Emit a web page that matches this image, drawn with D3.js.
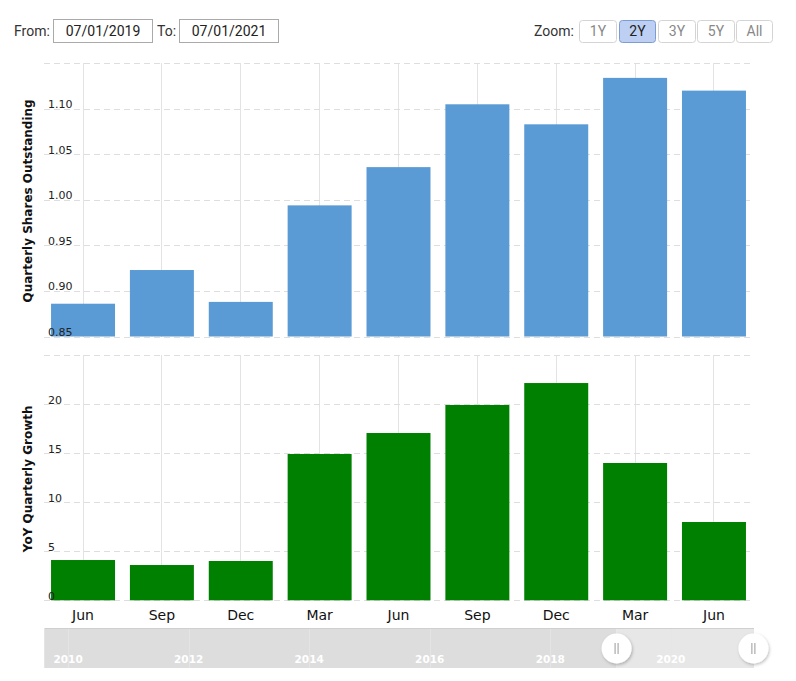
<!DOCTYPE html>
<html>
<head>
<meta charset="utf-8">
<script src="https://cdn.jsdelivr.net/npm/d3@7"></script>
<style>
  body { margin: 0; background: #fff; }
  svg { display: block; }
</style>
</head>
<body>
<svg id="chart" width="796" height="681"></svg>
<script>
// ---------- data ----------
const quarters = ["2019-06", "2019-09", "2019-12", "2020-03", "2020-06", "2020-09", "2020-12", "2021-03", "2021-06"];
const quarterLabels = ["Jun", "Sep", "Dec", "Mar", "Jun", "Sep", "Dec", "Mar", "Jun"];
const sharesOutstanding = [0.886, 0.923, 0.888, 0.994, 1.036, 1.105, 1.083, 1.134, 1.120];
const yoyGrowth = [4.11, 3.60, 4.01, 14.93, 17.07, 19.93, 22.17, 14.01, 7.99];
const sharesTicks = [0.85, 0.90, 0.95, 1.00, 1.05, 1.10, 1.15];
const sharesTickLabels = ["0.85", "0.90", "0.95", "1.00", "1.05", "1.10", ""];
const growthTicks = [0, 5, 10, 15, 20, 25];
const growthTickLabels = ["0", "5", "10", "15", "20", ""];
const zoomButtons = ["1Y", "2Y", "3Y", "5Y", "All"];
const selectedZoom = "2Y";
const fromDate = "07/01/2019";
const toDate = "07/01/2021";
const navYears = [2010, 2012, 2014, 2016, 2018, 2020];
const navDomain = [2009.6, 2021.38];
const navSelection = [2019.1, 2021.37];

// ---------- layout ----------
const svg = d3.select("#chart");
const plotLeft = 43.6, plotRight = 753.4, gridRight = 750;
const top1 = 63.3, bottom1 = 336.5;
const top2 = 355.3, bottom2 = 600.3;
const labelFont = "'DejaVu Sans', Verdana, sans-serif";
const uiFont = "Roboto, 'Open Sans', sans-serif";

const x = d3.scaleBand().domain(quarters).range([plotLeft, plotRight])
  .paddingInner(0.1886).paddingOuter(0.0943);
const y1 = d3.scaleLinear().domain([0.85, 1.15]).range([bottom1, top1]);
const y2 = d3.scaleLinear().domain([0, 25]).range([bottom2, top2]);

// shadow filter
const defs = svg.append("defs");
const f = defs.append("filter").attr("id", "shadow").attr("x", "-50%").attr("y", "-50%").attr("width", "200%").attr("height", "200%");
f.append("feDropShadow").attr("dx", 1).attr("dy", 1.5).attr("stdDeviation", 1.6).attr("flood-color", "#000").attr("flood-opacity", 0.25);

// ---------- header ----------
const hdr = svg.append("g");
hdr.append("text").attr("x", 14).attr("y", 36).text("From:")
  .attr("font-family", uiFont).attr("font-size", 14).attr("fill", "#333");
hdr.append("rect").attr("x", 53.5).attr("y", 19.5).attr("width", 99).attr("height", 23)
  .attr("fill", "#fff").attr("stroke", "#aaa");
hdr.append("text").attr("x", 103).attr("y", 36).attr("text-anchor", "middle").text(fromDate)
  .attr("font-family", uiFont).attr("font-size", 14).attr("fill", "#222");
hdr.append("text").attr("x", 157).attr("y", 36).text("To:")
  .attr("font-family", uiFont).attr("font-size", 14).attr("fill", "#333");
hdr.append("rect").attr("x", 179.5).attr("y", 19.5).attr("width", 99).attr("height", 23)
  .attr("fill", "#fff").attr("stroke", "#aaa");
hdr.append("text").attr("x", 229).attr("y", 36).attr("text-anchor", "middle").text(toDate)
  .attr("font-family", uiFont).attr("font-size", 14).attr("fill", "#222");

hdr.append("text").attr("x", 534).attr("y", 36).text("Zoom:")
  .attr("font-family", uiFont).attr("font-size", 14).attr("fill", "#333");
const btnX = [579.5, 619.5, 658.5, 697.5, 736.5];
const btnW = [37, 36, 37, 37, 36];
const btn = hdr.selectAll("g.btn").data(zoomButtons).join("g").attr("class", "btn");
btn.append("rect")
  .attr("x", (d, i) => btnX[i]).attr("y", 20.5).attr("width", (d, i) => btnW[i]).attr("height", 22)
  .attr("rx", 3).attr("ry", 3)
  .attr("fill", d => d === selectedZoom ? "#bdd0f3" : "#fff")
  .attr("stroke", d => d === selectedZoom ? "#7d9ccf" : "#d4d4d4");
btn.append("text")
  .attr("x", (d, i) => btnX[i] + btnW[i] / 2).attr("y", 36).attr("text-anchor", "middle")
  .text(d => d).attr("font-family", uiFont).attr("font-size", 14)
  .attr("fill", d => d === selectedZoom ? "#222" : "#888");

// ---------- panels ----------
function drawPanel(yScale, values, ticks, tickLabels, top, bottom, color, title) {
  const g = svg.append("g");
  // vertical grid at category centers
  g.selectAll("line.vgrid").data(quarters).join("line").attr("class", "vgrid")
    .attr("x1", d => x(d) + x.bandwidth() / 2).attr("x2", d => x(d) + x.bandwidth() / 2)
    .attr("y1", top).attr("y2", bottom)
    .attr("stroke", "#e3e3e3").attr("stroke-width", 1).attr("shape-rendering", "crispEdges");
  // horizontal dashed grid via axis
  const grid = g.append("g").attr("transform", `translate(${plotLeft},0)`)
    .call(d3.axisLeft(yScale).tickValues(ticks).tickSize(-(gridRight - plotLeft)).tickFormat(""));
  grid.select(".domain").remove();
  grid.selectAll(".tick line").attr("stroke", "#dedede").attr("stroke-dasharray", "6,4")
    .attr("shape-rendering", "crispEdges");
  // bars
  g.selectAll("rect.bar").data(values).join("rect").attr("class", "bar")
    .attr("x", (d, i) => x(quarters[i])).attr("width", x.bandwidth())
    .attr("y", d => yScale(d)).attr("height", d => yScale(yScale.domain()[0]) - yScale(d))
    .attr("fill", color);
  // tick labels (left aligned, above line)
  const lab = g.append("g").attr("transform", `translate(${plotLeft},0)`)
    .call(d3.axisLeft(yScale).tickValues(ticks).tickSize(0).tickFormat((d, i) => tickLabels[i]));
  lab.select(".domain").remove();
  lab.selectAll(".tick text")
    .attr("text-anchor", "start").attr("x", 4.5).attr("dy", "-1px")
    .attr("font-family", labelFont).attr("font-size", 11).attr("fill", "#222");
  lab.attr("font-family", null).attr("font-size", null);
  // title
  g.append("text")
    .attr("transform", `translate(32,${(top + bottom) / 2 + 1}) rotate(-90)`)
    .attr("text-anchor", "middle").text(title)
    .attr("font-family", labelFont).attr("font-size", 12).attr("font-weight", "bold").attr("fill", "#111");
  return g;
}

drawPanel(y1, sharesOutstanding, sharesTicks, sharesTickLabels, top1, bottom1, "#5b9bd5", "Quarterly Shares Outstanding");
drawPanel(y2, yoyGrowth, growthTicks, growthTickLabels, top2, bottom2, "#008000", "YoY Quarterly Growth");

// x axis labels
const xAxis = svg.append("g").attr("transform", `translate(0,${bottom2})`)
  .call(d3.axisBottom(x).tickSize(0).tickPadding(0).tickFormat((d, i) => quarterLabels[i]));
xAxis.select(".domain").remove();
xAxis.attr("font-family", null).attr("font-size", null);
xAxis.selectAll(".tick text").attr("y", 20).attr("dy", 0)
  .attr("font-family", labelFont).attr("font-size", 14).attr("fill", "#111");

// ---------- navigator ----------
const navTop = 628, navBottom = 668, navLeft = 44, navRight = 754;
const nx = d3.scaleLinear().domain(navDomain).range([navLeft, navRight]);
const nav = svg.append("g");
nav.append("rect").attr("x", navLeft).attr("y", navTop).attr("width", nx(navSelection[0]) - navLeft)
  .attr("height", navBottom - navTop).attr("fill", "#dddddd");
nav.append("rect").attr("x", nx(navSelection[0])).attr("y", navTop)
  .attr("width", navRight - nx(navSelection[0])).attr("height", navBottom - navTop).attr("fill", "#e7e7e7");
nav.append("line").attr("x1", navLeft).attr("x2", navRight).attr("y1", navTop + 0.5).attr("y2", navTop + 0.5)
  .attr("stroke", "#cfcfcf");
nav.append("line").attr("x1", navLeft + 0.5).attr("x2", navLeft + 0.5).attr("y1", navTop).attr("y2", navBottom)
  .attr("stroke", "#e4e4e4");
nav.selectAll("line.yr").data(navYears).join("line").attr("class", "yr")
  .attr("x1", d => Math.round(nx(d)) + 0.5).attr("x2", d => Math.round(nx(d)) + 0.5)
  .attr("y1", navTop + 1).attr("y2", navBottom).attr("stroke", "#e6e6e6").attr("stroke-opacity", 0.8);
nav.selectAll("text.yr").data(navYears).join("text").attr("class", "yr")
  .attr("x", d => nx(d)).attr("y", 663).attr("text-anchor", "middle").text(d => d)
  .attr("font-family", labelFont).attr("font-size", 10.5).attr("font-weight", "bold").attr("fill", "#fff");
const handles = nav.selectAll("g.handle").data(navSelection).join("g").attr("class", "handle")
  .attr("transform", d => `translate(${nx(d)},648.5)`);
handles.append("circle").attr("r", 15).attr("fill", "#fff").attr("filter", "url(#shadow)");
handles.append("line").attr("x1", -1.5).attr("x2", -1.5).attr("y1", -5.5).attr("y2", 5.5).attr("stroke", "#999");
handles.append("line").attr("x1", 1.5).attr("x2", 1.5).attr("y1", -5.5).attr("y2", 5.5).attr("stroke", "#999");
</script>
</body>
</html>
